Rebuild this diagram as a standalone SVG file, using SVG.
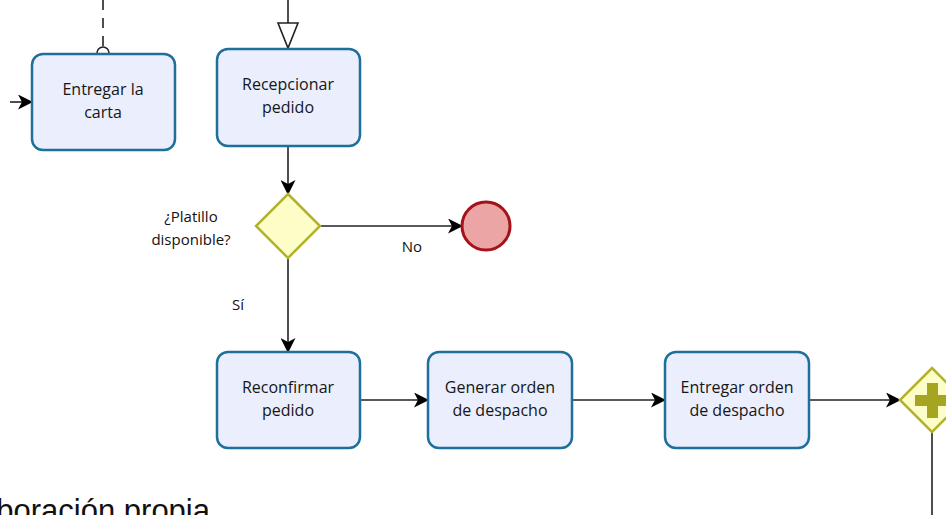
<svg xmlns="http://www.w3.org/2000/svg" width="946" height="515" viewBox="0 0 946 515">
  <defs>
    <!-- sequence flow head: filled, notched back -->
    <marker id="seq" markerWidth="15" markerHeight="15" refX="14" refY="7.5" orient="auto" markerUnits="userSpaceOnUse">
      <path d="M0,0 L15,7.5 L0,15 L4,7.5 Z" fill="#000"/>
    </marker>
    <style>
      .task rect { fill: #eaeefd; stroke: #1f6f9c; stroke-width: 2.5; }
      .lbl { font-family: "Open Sans", "Noto Sans", sans-serif; font-size: 16px; fill: #161616; text-anchor: middle; }
      .note { font-family: "Open Sans", "Noto Sans", sans-serif; font-size: 15px; fill: #111; }
      .flow { fill: none; stroke: #222; stroke-width: 1.6; marker-end: url(#seq); }
      .msg { fill: none; stroke: #222; stroke-width: 1.6; }
      .gw { fill: #fdfdc8; stroke: #b3b32a; stroke-width: 2.5; }
    </style>
  </defs>

  <rect width="946" height="515" fill="#fff"/>

  <!-- connectors -->
  <g id="connectors">
    <!-- incoming message to Entregar la carta (dashed, circle start) -->
    <line class="msg" x1="103" y1="0" x2="103" y2="47" stroke-dasharray="10 8"/>
    <circle cx="103" cy="53" r="6" fill="#fff" stroke="#222" stroke-width="1.6"/>
    <!-- incoming sequence flow from the left -->
    <path class="flow" d="M10,102 H32"/>
    <!-- incoming message to Recepcionar pedido (hollow head) -->
    <line class="msg" x1="288" y1="0" x2="288" y2="23"/>
    <path d="M278,23 L298,23 L288,48 Z" fill="#fff" stroke="#222" stroke-width="1.6"/>
    <!-- Recepcionar pedido -> gateway -->
    <path class="flow" d="M288,146 V194"/>
    <!-- gateway -> end (No) -->
    <path class="flow" d="M320,226 H462"/>
    <!-- gateway -> Reconfirmar pedido (Sí) -->
    <path class="flow" d="M288,258 V352"/>
    <!-- lower chain -->
    <path class="flow" d="M360,400 H428"/>
    <path class="flow" d="M572,400 H665"/>
    <path class="flow" d="M809,400 H900"/>
    <!-- parallel gateway outgoing -->
    <line class="msg" x1="932" y1="432" x2="932" y2="515"/>
    <text class="note" x="412" y="252" text-anchor="middle">No</text>
    <text class="note" x="238" y="310" text-anchor="middle">Sí</text>
  </g>

  <g id="task-entregar-carta" class="task">
    <rect x="32" y="54" width="143" height="96" rx="11"/>
    <text class="lbl" x="103" y="95">Entregar la</text>
    <text class="lbl" x="103" y="118">carta</text>
  </g>

  <g id="task-recepcionar" class="task">
    <rect x="217" y="49" width="143" height="97" rx="11"/>
    <text class="lbl" x="288" y="90">Recepcionar</text>
    <text class="lbl" x="288" y="113">pedido</text>
  </g>

  <g id="gateway-platillo">
    <path class="gw" d="M288,194 L320,226 L288,258 L256,226 Z"/>
    <text class="note" x="191" y="222" text-anchor="middle">¿Platillo</text>
    <text class="note" x="191" y="245" text-anchor="middle">disponible?</text>
  </g>

  <g id="end-event">
    <circle cx="486" cy="226" r="24" fill="#eba5a5" stroke="#a5121a" stroke-width="3"/>
  </g>

  <g id="task-reconfirmar" class="task">
    <rect x="217" y="352" width="143" height="96" rx="11"/>
    <text class="lbl" x="288" y="393">Reconfirmar</text>
    <text class="lbl" x="288" y="416">pedido</text>
  </g>

  <g id="task-generar" class="task">
    <rect x="428" y="352" width="144" height="96" rx="11"/>
    <text class="lbl" x="500" y="393">Generar orden</text>
    <text class="lbl" x="500" y="416">de despacho</text>
  </g>

  <g id="task-entregar-orden" class="task">
    <rect x="665" y="352" width="144" height="96" rx="11"/>
    <text class="lbl" x="737" y="393">Entregar orden</text>
    <text class="lbl" x="737" y="416">de despacho</text>
  </g>

  <g id="gateway-paralelo">
    <path class="gw" d="M932,368 L964,400 L932,432 L900,400 Z"/>
    <path d="M927,383 h11 v12 h12 v11 h-12 v12 h-11 v-12 h-12 v-11 h12 Z" fill="#a5a522"/>
  </g>

  <text id="source" x="210" y="521" text-anchor="end" font-family="'Liberation Sans', Arial, sans-serif" font-size="31" fill="#111">Elaboración propia</text>
</svg>
